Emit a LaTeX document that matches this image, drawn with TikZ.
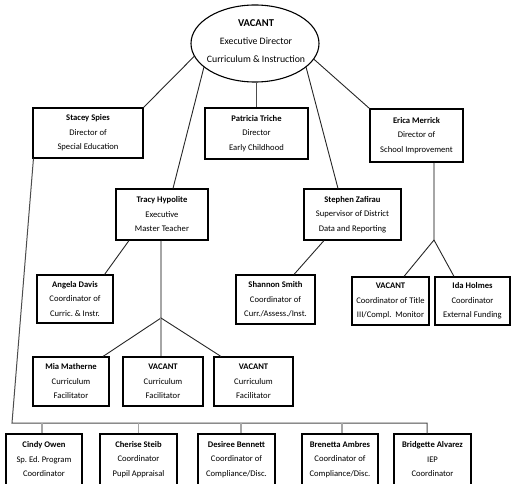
\documentclass[tikz,border=0pt]{standalone}
\usepackage{fontspec}
\setmainfont{Carlito}
\usetikzlibrary{shapes.geometric}
\begin{document}
\begin{tikzpicture}[x=1pt,y=-1pt,
 box/.style={draw=black,line width=1.1pt,rectangle,inner sep=0pt,align=center,font=\fontsize{8.6}{14.5}\selectfont},
 ln/.style={line width=0.9pt,draw=black!85},
 gl/.style={line width=1.3pt,draw=black!35},
 dl/.style={line width=1pt,draw=black!70},
]
\useasboundingbox (0,0) rectangle (512,484);
\frenchspacing
% top ellipse
\node[draw,ellipse,line width=1.1pt,minimum width=128pt,minimum height=77pt,inner sep=0pt] (ed) at (255,43.5) {};
\node[align=center,font=\fontsize{9.8}{18}\selectfont,inner sep=0pt] (edtext) at (256,41) {{\fontsize{10.5}{18}\selectfont\textbf{VACANT}}\\Executive Director\\Curriculum \& Instruction};
% level 1
\node[box,minimum width=110pt,minimum height=50pt] (stacey) at (88,133) {\textbf{Stacey Spies}\\Director of\\Special Education};
\node[box,minimum width=103pt,minimum height=51pt] (patricia) at (256.5,133.5) {\textbf{Patricia Triche}\\Director\\Early Childhood};
\node[box,minimum width=93pt,minimum height=53pt] (erica) at (416.5,135.5) {\textbf{Erica Merrick}\\Director of\\School Improvement};
% level 2
\node[box,minimum width=92pt,minimum height=51pt] (tracy) at (162,214.5) {\textbf{Tracy Hypolite}\\Executive\\Master Teacher};
\node[box,minimum width=97pt,minimum height=51pt] (stephen) at (352.5,214.5) {\textbf{Stephen Zafirau}\\Supervisor of District\\Data and Reporting};
% level 3
\node[box,minimum width=76pt,minimum height=48pt] (angela) at (75,299) {\textbf{Angela Davis}\\Coordinator of\\Curric.\ \& Instr.};
\node[box,minimum width=79pt,minimum height=49pt] (shannon) at (275.5,299.5) {\textbf{Shannon Smith}\\Coordinator of\\Curr./Assess./Inst.};
\node[box,minimum width=77pt,minimum height=48pt] (title) at (390.5,301) {\textbf{VACANT}\\Coordinator of Title\\III/Compl.\ \ Monitor};
\node[box,minimum width=75pt,minimum height=48pt] (ida) at (472.5,301) {\textbf{Ida Holmes}\\Coordinator\\External Funding};
% level 4
\node[box,minimum width=76pt,minimum height=49pt] (mia) at (71,381.5) {\textbf{Mia Matherne}\\Curriculum\\Facilitator};
\node[box,minimum width=80pt,minimum height=49pt] (cfa) at (163,381.5) {\textbf{VACANT}\\Curriculum\\Facilitator};
\node[box,minimum width=79pt,minimum height=49pt] (cfb) at (253.5,381.5) {\textbf{VACANT}\\Curriculum\\Facilitator};
% bottom row
\node[box,minimum width=76pt,minimum height=51pt] (cindy) at (44,459.5) {\textbf{Cindy Owen}\\Sp.\ Ed.\ Program\\Coordinator};
\node[box,minimum width=77pt,minimum height=51pt] (cherise) at (138.5,459.5) {\textbf{Cherise Steib}\\Coordinator\\Pupil Appraisal};
\node[box,minimum width=77pt,minimum height=51pt] (desiree) at (236.5,459.5) {\textbf{Desiree Bennett}\\Coordinator of\\Compliance/Disc.};
\node[box,minimum width=76pt,minimum height=51pt] (brenetta) at (340,459.5) {\textbf{Brenetta Ambres}\\Coordinator of\\Compliance/Disc.};
\node[box,minimum width=77pt,minimum height=51pt] (bridgette) at (432.5,459.5) {\textbf{Bridgette Alvarez}\\IEP\\Coordinator};
% junctions
\coordinate (jt) at (161,318);
\coordinate (je) at (434,240);
\coordinate (busL) at (12,423);
\coordinate (busR) at (427,423);
% connectors from ellipse
\draw[ln] (ed.192) -- (stacey.north east);
\draw[ln] (ed.205) -- ([xshift=11pt]tracy.north);
\draw[dl] (patricia.north) -- (patricia.north |- ed.south);
\draw[ln] (ed.335.6) -- ([xshift=-14.5pt]stephen.north);
\draw[ln] (ed.345.7) -- (erica.north west);
% Erica branch
\draw[gl] ([xshift=17.5pt]erica.south) -- (je);
\draw[ln] (je) -- ([xshift=13.5pt]title.north);
\draw[ln] (je) -- ([xshift=-18.5pt]ida.north);
% Stephen branch
\draw[ln] ([xshift=-28.5pt]stephen.south) -- ([xshift=18.5pt]shannon.north);
% Tracy branch
\draw[ln] ([xshift=-33pt]tracy.south) -- ([xshift=-9pt]angela.north east);
\draw[gl] ([xshift=-1pt]tracy.south) -- (jt);
\draw[ln] (jt) -- ([xshift=32pt]mia.north);
\draw[gl] (jt) -- (jt |- cfa.north);
\draw[ln] (jt) -- ([xshift=-32.5pt]cfb.north);
% Special education bus
\draw[dl] ([xshift=1pt]stacey.south west) -- (busL) -- (busR) -- (busR |- bridgette.north);
\draw[gl] ([xshift=-2pt]cindy.north) -- ([xshift=-2pt]cindy.north |- busL);
\draw[gl] (cherise.north) -- (cherise.north |- busL);
\draw[gl] ([xshift=4.5pt]desiree.north) -- ([xshift=4.5pt]desiree.north |- busL);
\draw[gl] ([xshift=2pt]brenetta.north) -- ([xshift=2pt]brenetta.north |- busL);
\end{tikzpicture}
\end{document}
